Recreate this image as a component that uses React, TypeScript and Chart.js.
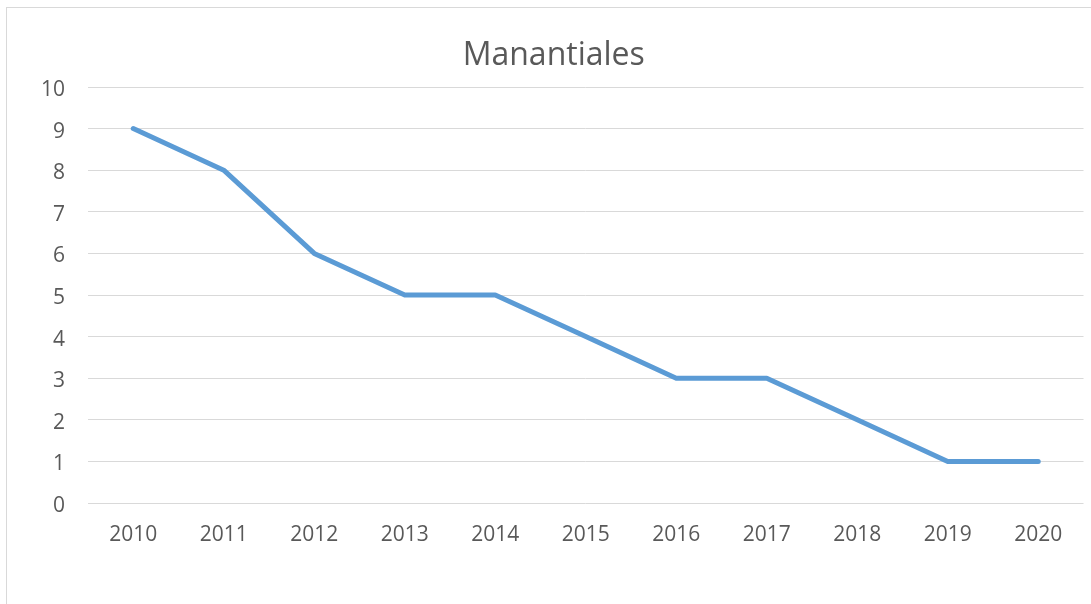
import React, { useEffect, useRef } from "react";
import { Chart, registerables } from "chart.js";

Chart.register(...registerables);

const years: string[] = ["2010", "2011", "2012", "2013", "2014", "2015", "2016", "2017", "2018", "2019", "2020"];
const manantiales: number[] = [9, 8, 6, 5, 5, 4, 3, 3, 2, 1, 1];
const titleText = "Manantiales";
const yMin = 0;
const yMax = 10;
const yStep = 1;

export default function App() {
  const canvasRef = useRef<HTMLCanvasElement | null>(null);

  useEffect(() => {
    const canvas = canvasRef.current;
    if (!canvas) return;
    const chart = new Chart(canvas, {
      type: "line",
      data: {
        labels: years,
        datasets: [
          {
            label: titleText,
            data: manantiales,
            borderColor: "#5B9BD5",
            backgroundColor: "#5B9BD5",
            borderWidth: 5,
            pointRadius: 0,
            pointHoverRadius: 0,
            tension: 0,
            borderCapStyle: "round",
            borderJoinStyle: "round",
            fill: false,
          },
        ],
      },
      options: {
        responsive: false,
        animation: false,
        layout: { padding: { left: 24, right: 7.5, top: 0, bottom: 0 } },
        plugins: {
          legend: { display: false },
          tooltip: { enabled: false },
          title: {
            display: true,
            text: titleText,
            color: "#595959",
            font: { family: "'Open Sans'", size: 32, weight: "normal" },
            padding: { top: 37, bottom: 11.6 },
          },
        },
        scales: {
          x: {
            type: "category",
            offset: true,
            grid: { display: false, drawTicks: false },
            border: { display: false },
            ticks: {
              color: "#595959",
              font: { family: "'Open Sans'", size: 21 },
              padding: 19,
              maxRotation: 0,
              autoSkip: false,
            },
            afterFit: (scale: any) => {
              scale.height = 101;
            },
          },
          y: {
            min: yMin,
            max: yMax,
            grid: { color: "#D9D9D9", lineWidth: 1, drawTicks: false },
            border: { display: false },
            ticks: {
              stepSize: yStep,
              color: "#595959",
              font: { family: "'Open Sans'", size: 21 },
              padding: 23,
              labelOffset: 3,
            },
            afterFit: (scale: any) => {
              scale.width = 64;
            },
          },
        },
      },
    });
    return () => chart.destroy();
  }, []);

  return (
    <div
      style={{
        position: "fixed",
        left: 0,
        top: 0,
        width: 1091,
        height: 604,
        overflow: "hidden",
        background: "#FFFFFF",
      }}
    >
      <div
        style={{
          position: "absolute",
          left: 6,
          top: 7,
          width: 1120,
          height: 640,
          border: "1px solid #D9D9D9",
          boxSizing: "border-box",
        }}
      />
      <canvas
        ref={canvasRef}
        width={1091}
        height={604}
        style={{ position: "absolute", left: 0, top: 0, width: 1091, height: 604 }}
      />
    </div>
  );
}
